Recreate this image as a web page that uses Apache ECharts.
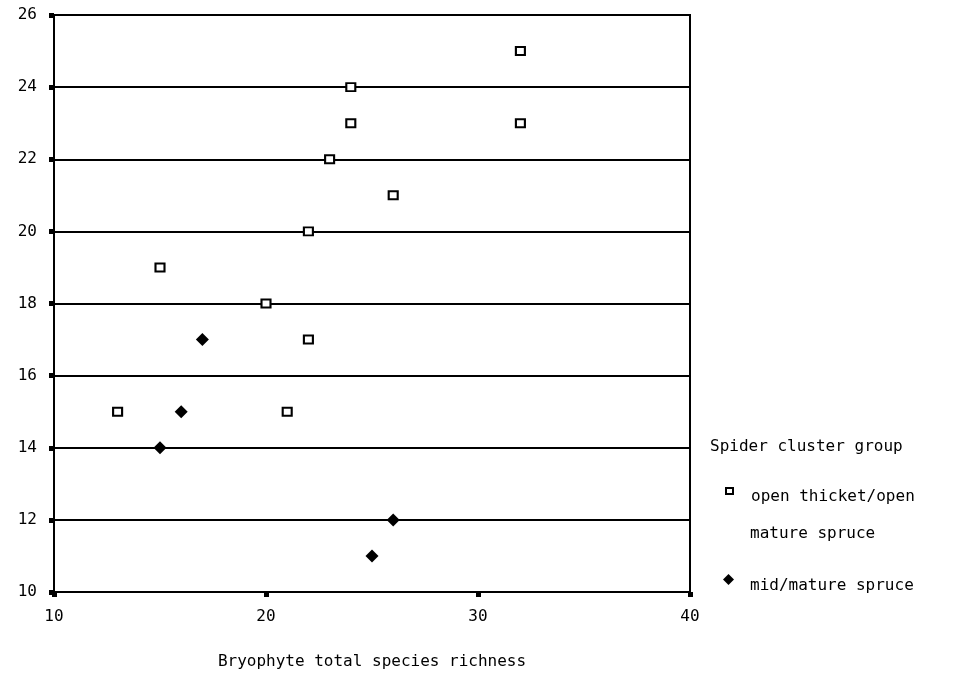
<!DOCTYPE html>
<html>
<head>
<meta charset="utf-8">
<script src="https://cdn.jsdelivr.net/npm/echarts@6/dist/echarts.min.js"></script>
<style>html,body{margin:0;padding:0;background:#fff}#c{width:962px;height:688px}</style>
</head>
<body>
<div id="c"></div>
<script>
// Data
const xTicks = [10, 20, 30, 40];
const yTicks = [10, 12, 14, 16, 18, 20, 22, 24, 26];
const openX = [32, 24, 24, 32, 23, 26, 22, 15, 20, 22, 13, 21];
const openY = [25, 24, 23, 23, 22, 21, 20, 19, 18, 17, 15, 15];
const midX = [17, 16, 15, 26, 25];
const midY = [17, 15, 14, 12, 11];
const seriesNames = ['open thicket/open mature spruce', 'mid/mature spruce'];
const legendTitle = 'Spider cluster group';
const xName = 'Bryophyte total species richness';

const FONT = '"DejaVu Sans Mono", monospace';
const FS = 16;
const zip = (xs, ys) => xs.map((x, i) => [x, ys[i]]);
const legendRich = {t: {fontFamily: FONT, fontSize: FS, color: '#000', padding: [12, 0, 0, 0]}};

const chart = echarts.init(document.getElementById('c'), null, {renderer: 'canvas'});
chart.setOption({
  backgroundColor: '#fff',
  animation: false,
  title: {
    text: legendTitle, left: 705, top: 434,
    textStyle: {fontFamily: FONT, fontSize: FS, fontWeight: 'normal', color: '#000'}
  },
  legend: [
    {
      data: [seriesNames[0]], left: 720, top: 482, orient: 'vertical',
      itemWidth: 7, itemHeight: 6, icon: 'rect',
      formatter: () => '{t|open thicket/open}',
      textStyle: {fontFamily: FONT, fontSize: FS, color: '#000', padding: [0, 0, 0, 13], rich: legendRich}
    },
    {
      data: [seriesNames[1]], left: 718, top: 569, orient: 'vertical',
      itemWidth: 11, itemHeight: 11, icon: 'diamond',
      formatter: (n) => '{t|' + n + '}',
      textStyle: {fontFamily: FONT, fontSize: FS, color: '#000', padding: [0, 0, 0, 11], rich: legendRich}
    }
  ],
  graphic: [{
    type: 'text', left: 750, top: 526,
    style: {text: 'mature spruce', font: FS + 'px "DejaVu Sans Mono"', fill: '#000'}
  }],
  grid: {
    left: 54, right: 272, top: 15, bottom: 96,
    show: true, borderColor: '#000', borderWidth: 2, backgroundColor: 'transparent'
  },
  xAxis: {
    type: 'value', min: 10, max: 40, interval: 10,
    name: xName, nameLocation: 'middle', nameGap: 62,
    nameTextStyle: {fontFamily: FONT, fontSize: FS, color: '#000'},
    axisLine: {show: true, lineStyle: {color: '#000', width: 2}},
    axisTick: {show: true, length: 5, lineStyle: {color: '#000', width: 5}},
    axisLabel: {fontFamily: FONT, fontSize: FS, color: '#000', margin: 17,
      formatter: v => xTicks.includes(v) ? String(v) : ''},
    splitLine: {show: false}
  },
  yAxis: {
    type: 'value', min: 10, max: 26, interval: 2,
    axisLine: {show: true, lineStyle: {color: '#000', width: 2}},
    axisTick: {show: true, length: 5, lineStyle: {color: '#000', width: 5}},
    axisLabel: {fontFamily: FONT, fontSize: FS, color: '#000', margin: 17,
      formatter: v => yTicks.includes(v) ? String(v) : ''},
    splitLine: {show: true, lineStyle: {color: '#000', width: 2}}
  },
  series: [
    {
      name: seriesNames[0], type: 'scatter', data: zip(openX, openY),
      symbol: 'rect', symbolSize: [9, 8],
      itemStyle: {color: '#fff', borderColor: '#000', borderWidth: 2, opacity: 1},
      z: 3
    },
    {
      name: seriesNames[1], type: 'scatter', data: zip(midX, midY),
      symbol: 'diamond', symbolSize: 13,
      itemStyle: {color: '#000', opacity: 1},
      z: 3
    }
  ]
});
</script>
</body>
</html>
